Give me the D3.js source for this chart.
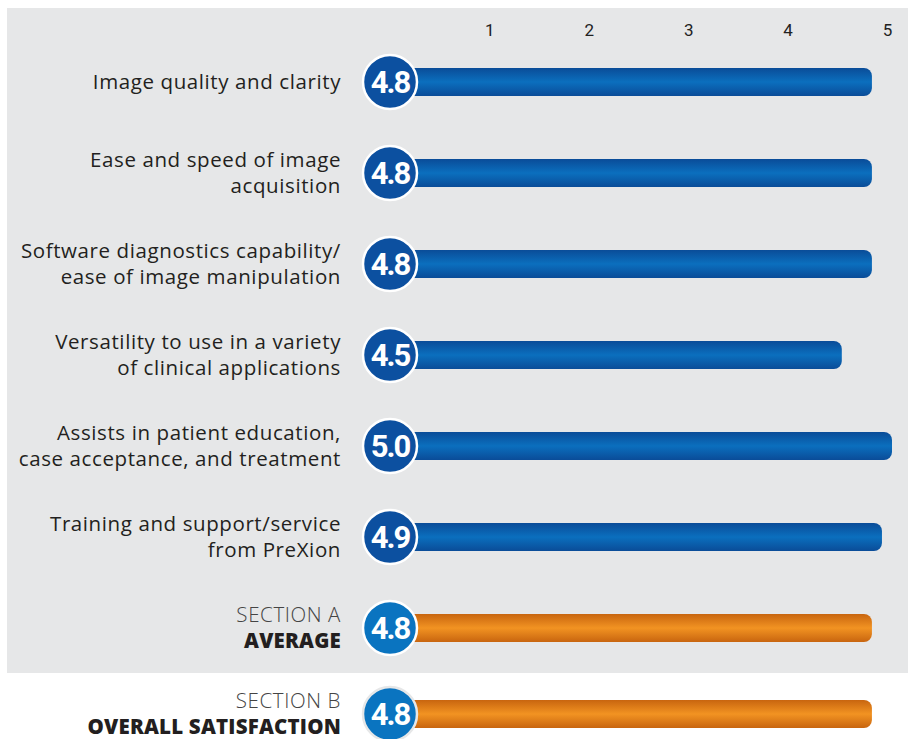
<!DOCTYPE html>
<html>
<head>
<meta charset="utf-8">
<script src="https://cdn.jsdelivr.net/npm/d3@7"></script>
<style>
  body { margin: 0; background: #fff; }
  svg { display: block; }
</style>
</head>
<body>
<div id="chart"></div>
<script>
// chart data
var labels = [
  ["Image quality and clarity"],
  ["Ease and speed of image", "acquisition"],
  ["Software diagnostics capability/", "ease of image manipulation"],
  ["Versatility to use in a variety", "of clinical applications"],
  ["Assists in patient education,", "case acceptance, and treatment"],
  ["Training and support/service", "from PreXion"],
  ["SECTION A", "AVERAGE"],
  ["SECTION B", "OVERALL SATISFACTION"]
];
var scores = [4.8, 4.8, 4.8, 4.5, 5.0, 4.9, 4.8, 4.8];
var kinds = ["item", "item", "item", "item", "item", "item", "summary", "summary"];
var tickValues = [1, 2, 3, 4, 5];

var svgWidth = 911;
var svgHeight = 739;

var svg = d3.select("#chart")
  .append("svg")
  .attr("width", svgWidth)
  .attr("height", svgHeight);

var defs = svg.append("defs");

function barGradient(id, edge, mid) {
  var g = defs.append("linearGradient")
    .attr("id", id)
    .attr("x1", 0).attr("y1", 0)
    .attr("x2", 0).attr("y2", 1);
  g.append("stop").attr("offset", "0%").attr("stop-color", edge);
  g.append("stop").attr("offset", "50%").attr("stop-color", mid);
  g.append("stop").attr("offset", "100%").attr("stop-color", edge);
}
barGradient("blueBar", "#0a4c98", "#0b6fbe");
barGradient("orangeBar", "#c8650f", "#f29322");

// gray panel behind section A
svg.append("rect")
  .attr("x", 7)
  .attr("y", 8)
  .attr("width", 901)
  .attr("height", 665)
  .attr("fill", "#e6e7e8");

var x = d3.scaleLinear()
  .domain([0, 5])
  .range([390, 892]);

var rowY = d3.scalePoint()
  .domain(d3.range(7))
  .range([82, 628]);

function yPos(i) {
  return i < 7 ? rowY(i) : 714;
}

// top axis (tick labels sit a touch left of the bar scale in the original)
var axis = d3.axisTop(x)
  .tickValues(tickValues)
  .tickSize(0)
  .tickFormat(d3.format("d"));

var axisG = svg.append("g")
  .attr("transform", "translate(-2, 20)")
  .call(axis);
axisG.select(".domain").remove();
axisG.selectAll("text")
  .attr("font-family", "Roboto, sans-serif")
  .attr("font-size", 17)
  .attr("fill", "#222")
  .attr("dy", "0.35em")
  .attr("y", 10)
  .attr("dx", d => 1 - (d - 1));

var rows = svg.selectAll(".row")
  .data(scores)
  .enter()
  .append("g")
  .attr("class", "row")
  .attr("transform", (d, i) => `translate(0, ${yPos(i)})`);

var barH = 28;

rows.append("rect")
  .attr("x", 405)
  .attr("y", -barH / 2)
  .attr("height", barH)
  .attr("width", d => x(d) - 405)
  .attr("rx", 8)
  .attr("fill", (d, i) => kinds[i] == "item" ? "url(#blueBar)" : "url(#orangeBar)");

rows.append("circle")
  .attr("cx", 390)
  .attr("cy", 0)
  .attr("r", 27)
  .attr("fill", (d, i) => kinds[i] == "item" ? "#0c50a0" : "#0a74c0")
  .attr("stroke", (d, i) => i == 7 ? "#e6e7e8" : "#ffffff")
  .attr("stroke-width", 2.5);

rows.append("text")
  .attr("x", 390)
  .attr("y", 0)
  .attr("dy", "0.36em")
  .attr("text-anchor", "middle")
  .attr("font-family", "Roboto, sans-serif")
  .attr("font-weight", 700)
  .attr("font-size", 31)
  .attr("letter-spacing", -2)
  .attr("fill", "#fff")
  .text(d => d.toFixed(1));

// category labels
rows.each(function(d, i) {
  var g = d3.select(this);
  var lines = labels[i];
  var t = g.append("text")
    .attr("text-anchor", "end")
    .attr("font-family", "'Open Sans', sans-serif")
    .attr("font-size", 20.5)
    .attr("letter-spacing", 0.6)
    .attr("fill", "#231f20");
  lines.forEach(function(line, j) {
    var dy = lines.length == 1 ? 0 : (j == 0 ? -13 : 13);
    var ts = t.append("tspan")
      .attr("x", 341)
      .attr("y", dy)
      .attr("dy", "0.35em")
      .text(line);
    if (kinds[i] == "summary") {
      if (j == 0) ts.attr("font-weight", 300).attr("fill", "#444");
      else ts.attr("font-weight", 800).attr("letter-spacing", 0.2);
    }
  });
});
</script>
</body>
</html>
